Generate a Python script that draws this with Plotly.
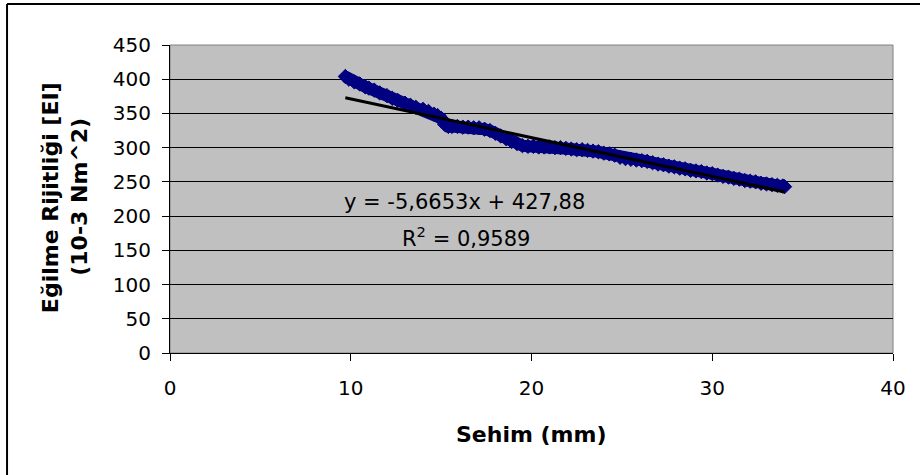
import plotly.graph_objects as go

# Measured deflection (mm) and bending stiffness EI (10-3 Nm^2)
sehim = [9.7, 9.9, 10.2, 10.5, 10.8, 11.0, 11.3, 11.6, 12.0, 12.3, 12.6, 13.0,
         13.3, 13.6, 14.0, 14.3, 14.6, 14.8, 15.0, 15.1, 15.2, 15.4, 15.6, 15.9,
         16.2, 16.5, 16.8, 17.1, 17.4, 17.7, 18.0, 18.3, 18.6, 18.9, 19.2, 19.5,
         19.8, 20.1, 20.4, 20.7, 21.0, 21.3, 21.6, 21.9, 22.2, 22.5, 22.8, 23.1,
         23.4, 23.7, 24.0, 24.3, 24.6, 24.9, 25.2, 25.5, 25.8, 26.1, 26.4, 26.7,
         27.0, 27.3, 27.6, 27.9, 28.2, 28.5, 28.8, 29.1, 29.4, 29.7, 30.0, 30.3,
         30.6, 30.9, 31.2, 31.5, 31.8, 32.1, 32.4, 32.7, 33.0, 33.3, 33.6, 33.9,
         34.0]
rijitlik = [404, 400, 396, 393, 389, 387, 384, 380, 376, 372, 369, 365,
            362, 359, 356, 353, 349, 347, 343, 339, 334, 331, 331, 331,
            330, 330, 329, 329, 327, 325, 321, 317, 313, 309, 306, 303,
            302, 302, 301, 301, 301, 300, 300, 299, 298, 297, 297, 296,
            295, 294, 292, 291, 289, 286, 284, 283, 282, 281, 280, 278,
            276, 275, 273, 272, 270, 269, 267, 266, 265, 263, 262, 260,
            258, 257, 255, 254, 252, 251, 250, 248, 247, 246, 245, 244,
            243]

# Linear trendline coefficients (as printed on the chart)
egim = -5.6653
kesisim = 427.88
r2 = 0.9589

x_ticks = [0, 10, 20, 30, 40]
y_ticks = [0, 50, 100, 150, 200, 250, 300, 350, 400, 450]

FONT = "DejaVu Sans, Arial, sans-serif"

trend_x = [min(sehim), max(sehim)]
trend_y = [egim * v + kesisim for v in trend_x]

fig = go.Figure()
fig.add_trace(go.Scatter(
    x=sehim, y=rijitlik, mode="lines+markers",
    line=dict(color="#000080", width=12),
    marker=dict(symbol="diamond", size=11, color="#000080",
                line=dict(color="#000080", width=1)),
    showlegend=False, hoverinfo="x+y"))
fig.add_trace(go.Scatter(
    x=trend_x, y=trend_y, mode="lines",
    line=dict(color="#000000", width=3),
    showlegend=False, hoverinfo="skip"))

def virgul(v, nd):
    return f"{v:.{nd}f}".replace(".", ",")

fig.add_annotation(
    x=9.52, y=220, xref="x", yref="y", xanchor="left", yanchor="middle",
    text=f"y = {virgul(egim, 4)}x + {virgul(kesisim, 2)}",
    showarrow=False, font=dict(family=FONT, size=21, color="#000"))
fig.add_annotation(
    x=12.75, y=169, xref="x", yref="y", xanchor="left", yanchor="middle",
    text=f"R<sup>2</sup> = {virgul(r2, 4)}",
    showarrow=False, font=dict(family=FONT, size=21, color="#000"))

# Two-line rotated y-axis title
fig.add_annotation(
    x=-0.166, y=0.506, xref="paper", yref="paper", xanchor="center", yanchor="middle",
    text="<b>Eğilme Rijitliği [EI]</b>", textangle=-90, showarrow=False,
    font=dict(family=FONT, size=22, color="#000"))
fig.add_annotation(
    x=-0.125, y=0.506, xref="paper", yref="paper", xanchor="center", yanchor="middle",
    text="<b>(10-3 Nm^2)</b>", textangle=-90, showarrow=False,
    font=dict(family=FONT, size=22, color="#000"))
fig.add_annotation(
    x=0.5, y=-0.263, xref="paper", yref="paper", xanchor="center", yanchor="middle",
    text="<b>Sehim (mm)</b>", showarrow=False,
    font=dict(family=FONT, size=22, color="#000"))

# Plot-area frame (grey on top/right)
fig.add_shape(type="rect", xref="paper", yref="paper", x0=0, x1=1, y0=0, y1=1,
              line=dict(color="#808080", width=1), layer="below")
# Outer chart border: left and top edges
fig.add_shape(type="line", xref="paper", yref="paper",
              x0=-0.2254, x1=-0.2254, y0=-0.6, y1=1.133,
              line=dict(color="#000000", width=2))
fig.add_shape(type="line", xref="paper", yref="paper",
              x0=-0.2254, x1=1.2, y0=1.133, y1=1.133,
              line=dict(color="#000000", width=2))

fig.update_layout(
    width=920, height=475,
    margin=dict(l=170, r=27, t=45, b=122),
    paper_bgcolor="#ffffff", plot_bgcolor="#c0c0c0",
    font=dict(family=FONT, size=20, color="#000"),
    xaxis=dict(range=[0, 40], tickvals=x_ticks, ticks="outside", ticklen=7,
               tickcolor="#000", showgrid=False, zeroline=False,
               showline=True, linecolor="#000", linewidth=1,
               ticklabelstandoff=10, tickfont=dict(size=20)),
    yaxis=dict(range=[0, 450], tickvals=y_ticks, ticks="outside", ticklen=7,
               tickcolor="#000", showgrid=True, gridcolor="#000", gridwidth=1,
               zeroline=False, showline=True, linecolor="#000", linewidth=1,
               ticklabelstandoff=7, tickfont=dict(size=20)),
)

fig.write_html("out.html")
